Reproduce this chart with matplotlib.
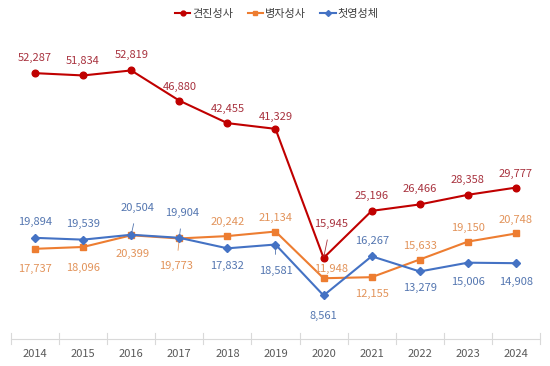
import matplotlib
matplotlib.use("Agg")
import matplotlib.pyplot as plt
from matplotlib.lines import Line2D

plt.rcParams['font.family'] = ['Noto Sans CJK KR', 'DejaVu Sans']

# 데이터
years = ["2014", "2015", "2016", "2017", "2018", "2019", "2020", "2021", "2022", "2023", "2024"]
confirmation = [52287, 51834, 52819, 46880, 42455, 41329, 15945, 25196, 26466, 28358, 29777]
anointing = [17737, 18096, 20399, 19773, 20242, 21134, 11948, 12155, 15633, 19150, 20748]
communion = [19894, 19539, 20504, 19904, 17832, 18581, 8561, 16267, 13279, 15006, 14908]
names = ["견진성사", "병자성사", "첫영성체"]

# 라벨 위치 (픽셀 오프셋, 리더선 여부)
red_off = [(0, -15, 0), (0, -14, 0), (0, -15, 0), (0, -14, 0), (0, -14, 0), (0, -12, 0),
           (7, -34, 1), (0, -15, 0), (0, -15, 0), (0, -15, 0), (0, -14, 0)]
org_off = [(0, 20, 0), (0, 21, 0), (1, 19, 1), (-3, 28, 1), (0, -14, 0), (0, -14, 0),
           (7, -9, 0), (0, 17, 0), (0, -14, 0), (0, -14, 0), (0, -14, 0)]
blu_off = [(0, -16, 0), (0, -16, 0), (6, -27, 1), (3, -25, 1), (0, 18, 0), (0, 26, 1),
           (0, 21, 0), (0, -15, 0), (0, 17, 0), (0, 19, 1), (0, 19, 1)]

red, orange, blue = "#C00000", "#ED7D31", "#4472C4"
red_t, orange_t, blue_t = "#A8323E", "#E2935A", "#5476B0"

fig = plt.figure(figsize=(5.5, 3.66), dpi=100)
ax = fig.add_axes([0.02, 0.0738, 0.9618, 0.8335])
x = list(range(len(years)))

series = [
    (confirmation, red, red_t, "o", 4.8, red_off),
    (anointing, orange, orange_t, "s", 4.6, org_off),
    (communion, blue, blue_t, "D", 4.2, blu_off),
]

for vals, c, tc, m, ms, offs in series:
    ax.plot(x, vals, color=c, lw=1.5, marker=m, ms=ms, zorder=3)
    for xi, v, (dx, dy, lead) in zip(x, vals, offs):
        if lead:
            ax.annotate(f"{v:,}", (xi, v), xytext=(dx, -dy), textcoords="offset pixels",
                        ha="center", va="center", fontsize=8, color=tc,
                        arrowprops=dict(arrowstyle="-", color=tc, lw=0.6, shrinkA=6, shrinkB=1))
        else:
            ax.annotate(f"{v:,}", (xi, v), xytext=(dx, -dy), textcoords="offset pixels",
                        ha="center", va="center", fontsize=8, color=tc)

ax.set_xlim(-0.5, len(years) - 0.5)
ax.set_ylim(0, 60000)
ax.set_yticks([])
ax.set_xticks(x)
ax.set_xticklabels(years, fontsize=8, color="#595959")
ax.tick_params(axis="x", length=0, pad=7)
for s in ["top", "right", "left"]:
    ax.spines[s].set_visible(False)
ax.spines["bottom"].set_color("#D9D9D9")

# 카테고리 경계 눈금
for b in [i - 0.5 for i in range(len(years) + 1)]:
    ax.plot([b, b], [-0.018, 0.018], transform=ax.get_xaxis_transform(),
            color="#D9D9D9", lw=0.8, clip_on=False)

handles = [
    Line2D([], [], color=red, marker="o", ms=3.5, lw=1.5),
    Line2D([], [], color=orange, marker="s", ms=3.5, lw=1.5),
    Line2D([], [], color=blue, marker="D", ms=3, lw=1.5),
]
fig.legend(handles, names, loc="center", bbox_to_anchor=(0.503, 0.962), ncol=3,
           frameon=False, fontsize=8, handlelength=1.4, columnspacing=1.3,
           handletextpad=0.15, labelcolor="#404040")

fig.savefig("out.png", dpi=100)
